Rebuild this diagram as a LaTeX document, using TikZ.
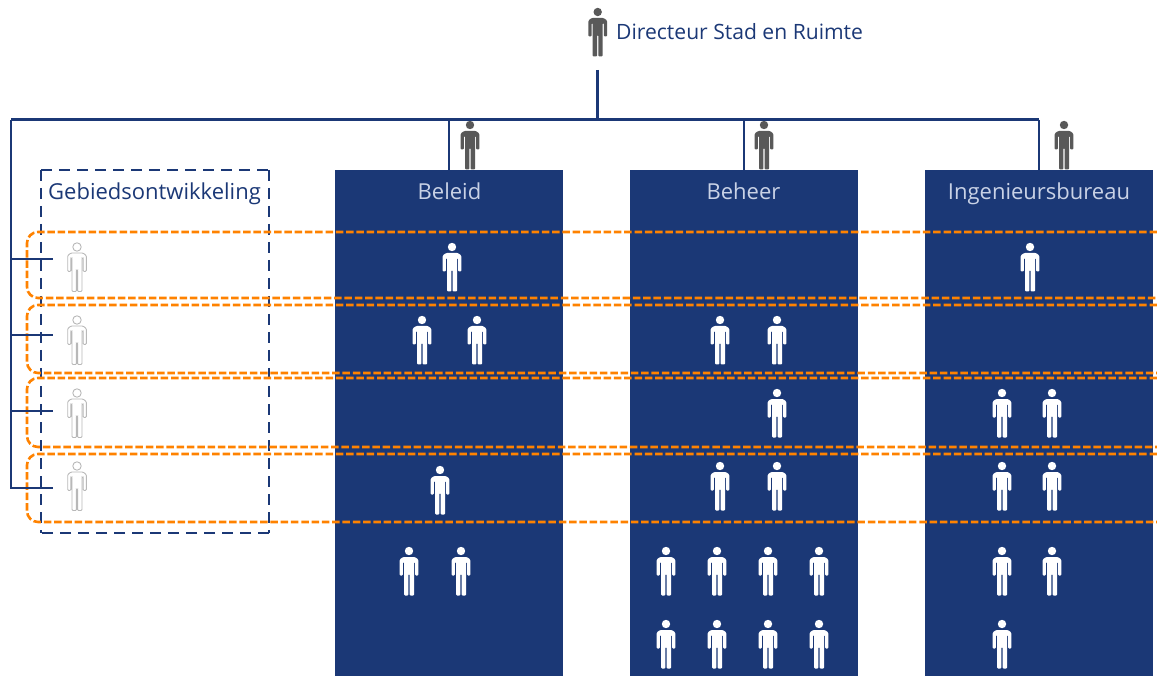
\documentclass[tikz,border=0pt]{standalone}
\usepackage{fontspec}
\setmainfont{Open Sans}
\usetikzlibrary{positioning}
\definecolor{navy}{HTML}{1B3876}
\definecolor{rowline}{HTML}{FF8200}
\definecolor{paleblue}{HTML}{C9D2E6}
\definecolor{darkman}{HTML}{595959}
\tikzset{
  dept/.style={draw=none, fill=navy, minimum width=228pt, minimum height=506pt, inner sep=0pt, outer sep=0pt, anchor=north},
  deptlabel/.style={text=paleblue, font=\fontsize{22}{26}\selectfont, inner sep=0pt, anchor=base},
  tree/.style={draw=navy, line width=3pt},
  thintree/.style={draw=navy, line width=2.4pt},
  frameside/.style={draw=navy, line width=2.7pt, dash pattern=on 11pt off 7pt},
  rowband/.style={draw=rowline, line width=2.6pt, rounded corners=11pt, dash pattern=on 7.5pt off 2.8pt},
  persondark/.style={fill=darkman},
  personwhite/.style={fill=white},
  persongrey/.style={fill=white, draw=black!28, line width=.9pt},
  pics/person/.style={code={
    \path[#1] (0,0) circle (4.2);
    \path[#1, rounded corners=1pt] (-6,6) -- (6,6) -- (9.3,8.5) -- (9.3,24.5) -- (6.2,24.5) -- (6.2,11) -- (5,11)
      -- (5,44.5) -- (.6,44.5) -- (.6,23) -- (-.6,23) -- (-.6,44.5) -- (-5,44.5) -- (-5,11) -- (-6.2,11)
      -- (-6.2,24.5) -- (-9.3,24.5) -- (-9.3,8.5) -- cycle;
  }}
}
\begin{document}
\begin{tikzpicture}[x=1pt, y=-1pt]
  \useasboundingbox (0,0) rectangle (1157,676);

  \node (dirlabel) [anchor=base west, inner sep=0pt, text=navy, font=\fontsize{21.1}{25}\selectfont] at (616,39.5) {Directeur Stad en Ruimte};
  \coordinate (dirfoot) at (597,70);
  \coordinate (bus) at (597,120);
  \coordinate (busleft) at (11,120);

  \pic at (597.7,12) {person=persondark};
  \pic at (470,125) {person=persondark};
  \pic at (764,125) {person=persondark};
  \pic at (1064,125) {person=persondark};

  \node (beleid) [dept] at (449,170) {};
  \node (beheer) [dept] at (744,170) {};
  \node (ingenieurs) [dept] at (1039,170) {};
  \node (lbeleid) [deptlabel] at (449.5,200) {Beleid};
  \node (lbeheer) [deptlabel] at (743.5,200) {Beheer};
  \node (lingenieurs) [deptlabel] at (1039,200) {Ingenieursbureau};

  \node (gebied) [minimum width=228pt, minimum height=363pt, inner sep=0pt, outer sep=0pt, anchor=north west] at (41,170) {};
  \node (lgebied) [anchor=base, text=navy, font=\fontsize{22}{26}\selectfont, inner sep=0pt] at (154.5,200) {Gebiedsontwikkeling};
  \draw [frameside] (gebied.north west) -- (gebied.north east);
  \draw [frameside] (gebied.north east) -- (gebied.south east);
  \draw [frameside] (gebied.south east) -- (gebied.south west);
  \draw [frameside] (gebied.north west) -- (gebied.south west);

  \foreach \i/\j in {77/247, 77/320, 77/393, 77/466}
    \pic at (\i,\j) {person=persongrey};
  \foreach \i/\j in {452/247, 422/320, 477/320, 440/470, 409/551, 461/551,
                     720/320, 777/320, 777/393, 720/466, 777/466,
                     666/551, 717/551, 768/551, 819/551, 666/624, 717/624, 768/624, 819/624,
                     1030/247, 1002/393, 1052/393, 1002/466, 1052/466, 1002/551, 1052/551, 1002/624}
    \pic at (\i,\j) {person=personwhite};

  \foreach \t/\b in {232/298, 305/373, 378/447, 454/522}
    \draw [rowband] (1157,\t) -- (27,\t) -- (27,\b) -- (1157,\b);

  \coordinate (tap1) at (53,259);
  \coordinate (tap2) at (53,335);
  \coordinate (tap3) at (53,411);
  \coordinate (tap4) at (53,488);

  \draw [tree] (dirfoot) -- (bus);
  \draw [tree] (busleft) -- (bus -| ingenieurs.north);
  \draw [thintree] (bus -| ingenieurs.north) -- (ingenieurs.north);
  \draw [thintree] (bus -| beleid.north) -- (beleid.north);
  \draw [thintree] (bus -| beheer.north) -- (beheer.north);
  \draw [thintree] (busleft) -- (busleft |- tap4) -- (tap4);
  \draw [thintree] (busleft |- tap1) -- (tap1);
  \draw [thintree] (busleft |- tap2) -- (tap2);
  \draw [thintree] (busleft |- tap3) -- (tap3);
\end{tikzpicture}
\end{document}
